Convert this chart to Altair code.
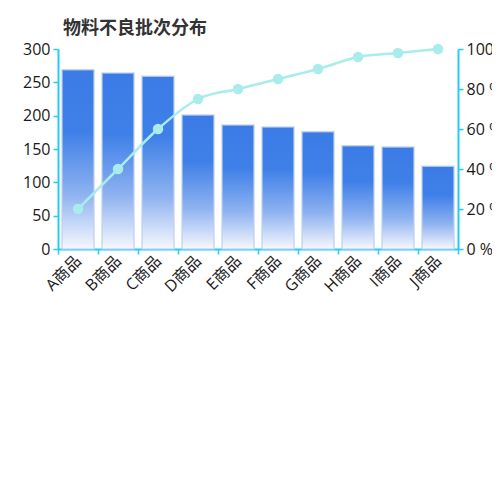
import altair as alt
import pandas as pd

categories = ["A商品", "B商品", "C商品", "D商品", "E商品", "F商品", "G商品", "H商品", "I商品", "J商品"]
batches = [269, 264, 259, 201, 186, 183, 176, 155, 153, 124]
cumulative_pct = [20, 40, 60, 75, 80, 85, 90, 96, 98, 100]

df = pd.DataFrame({"cat": categories, "count": batches, "pct": cumulative_pct})

FONT = "Open Sans, Noto Sans CJK SC"
CJK = "Noto Sans CJK SC"
AXIS_COLOR = "#22cdf0"

x = alt.X(
    "cat:N",
    sort=categories,
    title=None,
    scale=alt.Scale(paddingInner=0, paddingOuter=0),
    axis=alt.Axis(
        labelAngle=-45,
        labelAlign="right",
        labelBaseline="middle",
        labelFontSize=16,
        labelFont=FONT,
        labelColor="#1a1a1a",
        domainColor=AXIS_COLOR,
        domainWidth=2,
        tickColor=AXIS_COLOR,
        tickWidth=1.5,
        tickSize=5,
        tickBand="extent",
        labelPadding=4,
    ),
)

gradient = {
    "gradient": "linear",
    "x1": 0, "y1": 0, "x2": 0, "y2": 1,
    "stops": [
        {"offset": 0, "color": "#3a7be6"},
        {"offset": 0.35, "color": "#3f80e8"},
        {"offset": 0.7, "color": "#8fb3f0"},
        {"offset": 1, "color": "#f6f8fe"},
    ],
}

bars = alt.Chart(df).mark_bar(
    color=gradient,
    width={"band": 0.8},
    stroke="#bcd0ee",
    strokeWidth=1.5,
    strokeOpacity=0.8,
).encode(
    x=x,
    y=alt.Y(
        "count:Q",
        title=None,
        scale=alt.Scale(domain=[0, 300], nice=False),
        axis=alt.Axis(
            values=[0, 50, 100, 150, 200, 250, 300],
            labelFontSize=16,
            labelFont=FONT,
            labelColor="#1a1a1a",
            domainColor=AXIS_COLOR,
            domainWidth=2,
            tickColor=AXIS_COLOR,
            tickWidth=1.5,
            tickSize=5,
            grid=False,
            labelPadding=3,
        ),
    ),
)

line = alt.Chart(df).mark_line(
    color="#a9ecec",
    strokeWidth=2.5,
    interpolate="monotone",
    point=alt.OverlayMarkDef(filled=True, color="#a9ecec", size=110, opacity=1),
).encode(
    x=x,
    y=alt.Y(
        "pct:Q",
        title=None,
        scale=alt.Scale(domain=[0, 100], nice=False),
        axis=alt.Axis(
            orient="right",
            values=[0, 20, 40, 60, 80, 100],
            labelExpr="datum.value + ' %'",
            labelFontSize=16,
            labelFont=FONT,
            labelColor="#1a1a1a",
            domainColor=AXIS_COLOR,
            domainWidth=2,
            tickColor=AXIS_COLOR,
            tickWidth=1.5,
            tickSize=5,
            grid=False,
            labelPadding=3,
        ),
    ),
)

chart = alt.layer(bars, line).resolve_scale(y="independent").properties(
    width=400,
    height=200,
    background="white",
    autosize=alt.AutoSizeParams(type="none"),
    padding={"left": 50, "top": 41, "right": 34, "bottom": 243},
    title=alt.TitleParams(
        "物料不良批次分布",
        anchor="start",
        frame="group",
        dx=5,
        offset=3,
        fontSize=18,
        fontWeight="bold",
        font=CJK,
        color="#333",
    ),
).configure_view(strokeWidth=0, stroke="transparent")

chart.save("out.html", embed_options={"renderer": "svg", "actions": False})
